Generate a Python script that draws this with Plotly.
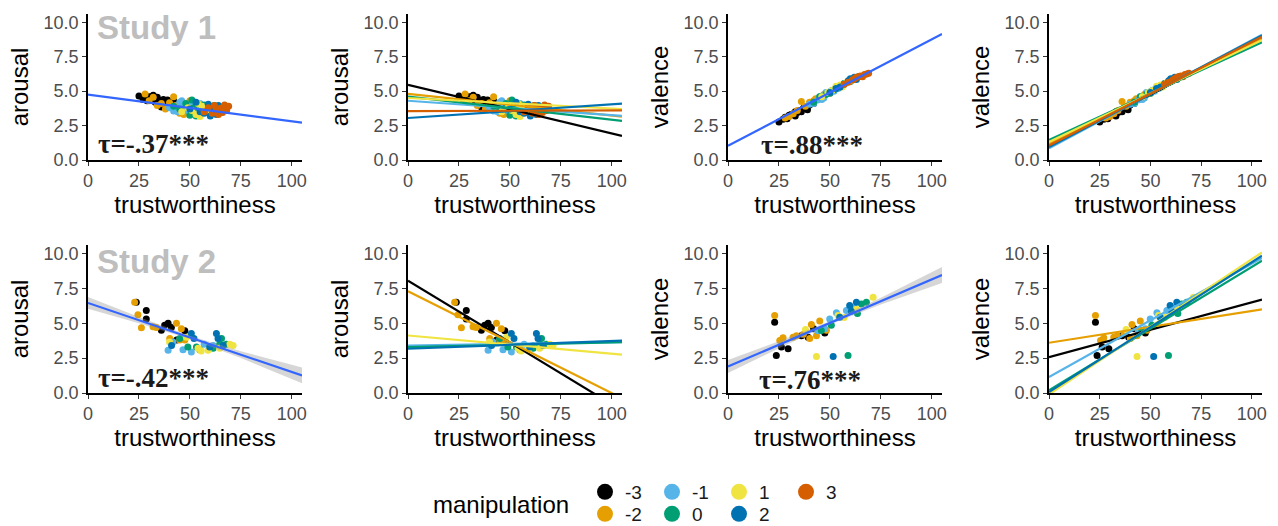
import plotly.graph_objects as go

W, H = 1278, 526

# ---------------- data ----------------
levels = [-3, -2, -1, 0, 1, 2, 3]
level_colors = ["#000000", "#E69F00", "#56B4E9", "#009E73", "#F0E442", "#0072B2", "#D55E00"]
legend_row1 = [-3, -1, 1, 3]
legend_row2 = [-2, 0, 2]

x_ticks = [0, 25, 50, 75, 100]
y_ticks = [0, 2.5, 5, 7.5, 10]
y_ticklabels = ["0.0", "2.5", "5.0", "7.5", "10.0"]

# Study 1 (level, trustworthiness, arousal, valence)
s1_level = ([-3] * 17 + [-2] * 12 + [-1] * 13 + [0] * 11 + [1] * 9 + [2] * 10 + [3] * 11)
s1_trust = [25, 27, 28, 29, 30, 31, 32, 33, 33, 34, 35, 36, 37, 38, 39, 40, 42,
            28, 30, 32, 34, 36, 38, 40, 42, 43, 45, 47, 50,
            40, 42, 44, 45, 46, 47, 48, 50, 52, 54, 55, 57, 60,
            42, 45, 48, 50, 51, 52, 53, 55, 57, 60, 62,
            46, 49, 51, 53, 54, 55, 56, 58, 60,
            50, 53, 55, 57, 59, 60, 61, 62, 63, 64,
            57, 59, 61, 62, 63, 64, 65, 66, 67, 68, 69]
s1_arousal = [4.65, 4.4, 4.5, 4.3, 4.6, 4.4, 4.7, 4.2, 4.45, 4.55, 4.3, 3.85, 4.4, 4.25, 4.35, 4.1, 4.3,
              4.8, 4.3, 4.55, 3.95, 4.1, 3.7, 4.15, 4.6, 3.95, 3.4, 3.3, 4.3,
              3.8, 3.55, 3.5, 4.2, 4.3, 3.9, 3.6, 4.0, 3.8, 3.45, 4.1, 3.7, 3.9,
              3.9, 3.7, 4.1, 3.25, 4.35, 3.8, 3.2, 3.6, 4.0, 3.5, 3.95,
              3.5, 3.8, 3.6, 3.3, 4.1, 3.15, 3.9, 3.6, 3.4,
              3.7, 4.2, 3.5, 3.4, 4.05, 3.2, 3.8, 3.6, 3.3, 3.95,
              3.5, 3.8, 3.4, 3.95, 3.6, 3.3, 3.75, 3.45, 4.0, 3.6, 3.9]
s1_valence = [2.75, 2.95, 3.1, 3.0, 3.25, 3.3, 3.35, 3.2, 3.5, 3.45, 3.6, 3.5, 3.75, 3.8, 3.65, 4.0, 4.1,
              3.05, 3.15, 3.35, 3.6, 4.25, 3.9, 4.2, 4.3, 4.45, 4.55, 4.75, 4.85,
              4.05, 4.1, 4.35, 4.6, 4.4, 4.5, 4.9, 4.95, 5.0, 5.2, 5.35, 5.55, 5.85,
              4.2, 4.6, 4.75, 4.85, 5.05, 5.1, 5.2, 5.3, 5.55, 5.7, 5.9,
              4.6, 4.9, 5.05, 5.35, 5.3, 5.45, 5.3, 5.6, 5.75,
              4.9, 5.2, 5.3, 5.5, 5.75, 5.9, 5.85, 6.0, 5.85, 6.05,
              5.5, 5.65, 5.8, 5.9, 6.0, 6.05, 6.1, 6.05, 6.2, 6.25, 6.3]

# Study 2 arousal (level, trustworthiness, arousal)
s2a_level = [-3] * 9 + [-2] * 11 + [-1] * 7 + [0] * 7 + [1] * 8 + [2] * 7
s2a_trust = [23.7, 28.6, 28.6, 36, 37.6, 39.3, 40.9, 47.5, 43.5,
             22.9, 24.5, 26.2, 31.9, 33.5, 43.4, 45.8, 40.1, 45, 47.5, 55,
             39.3, 46.6, 50.7, 54.8, 41.7, 61.4, 57,
             49, 53.2, 61.4, 64.6, 67.9, 65.5, 45,
             40, 54, 58.9, 64.6, 71.2, 69.6, 48.3, 55.5,
             41, 50.7, 63, 63.8, 66.3, 59.7, 52]
s2a_arousal = [6.5, 5.9, 5.3, 4.5, 4.86, 5.0, 4.7, 4.45, 3.8,
               6.5, 5.6, 4.67, 4.74, 4.7, 5.0, 4.6, 3.9, 3.8, 3.8, 3.1,
               3.06, 3.1, 2.94, 3.1, 3.66, 3.4, 3.5,
               3.3, 3.3, 3.2, 3.5, 3.5, 3.9, 3.9,
               3.66, 3.2, 3.06, 3.2, 3.4, 3.5, 4.0, 3.0,
               3.4, 4.26, 4.26, 3.9, 3.4, 3.3, 3.9]

# Study 2 valence (level, trustworthiness, valence)
s2v_level = [-3] * 8 + [-2] * 11 + [-1] * 6 + [0] * 7 + [1] * 6 + [2] * 5
s2v_trust = [22.9, 23.7, 26.2, 29.5, 39.3, 47.5, 36, 42,
             22.9, 25.4, 27, 31.9, 33.6, 40.9, 45, 43.4, 48.3, 40.1, 37,
             49.9, 53.2, 47.5, 58.1, 44, 62,
             58.9, 50.7, 65.5, 67.9, 61.4, 45.8, 63.5,
             43.4, 54, 71.2, 63, 38, 57,
             51.6, 59.7, 63, 54.8, 60.5]
s2v_valence = [5.07, 2.69, 3.29, 3.17, 4.0, 4.29, 4.1, 4.6,
               5.55, 3.76, 3.95, 4.0, 4.1, 4.9, 5.15, 4.1, 4.5, 3.9, 4.2,
               5.3, 5.75, 4.6, 5.9, 4.45, 6.1,
               2.69, 4.85, 6.38, 6.5, 5.9, 4.48, 5.7,
               2.62, 5.55, 6.86, 6.0, 4.55, 5.4,
               2.62, 6.26, 6.5, 5.43, 5.85]

# fitted lines (intercept, slope)
s1_arousal_fit = (4.75, -0.0194)
s1_valence_fit = (1.04, 0.0772)
s2_arousal_fit = (6.45, -0.0494)
s2_valence_fit = (1.90, 0.0624)

s1_arousal_int = [5.45, 4.80, 4.30, 4.60, 4.50, 3.05, 3.55]
s1_arousal_slope = [-0.0352, -0.0157, -0.0105, -0.0167, -0.0076, 0.0100, 0.0005]
s1_valence_int = [1.00, 1.20, 0.85, 1.45, 1.30, 0.95, 1.05]
s1_valence_slope = [0.0752, 0.0724, 0.0786, 0.0676, 0.0705, 0.0771, 0.0752]

s2_levels = [-3, -2, -1, 0, 1, 2]
s2_arousal_int = [8.05, 7.29, 3.40, 3.29, 4.12, 3.17]
s2_arousal_slope = [-0.0886, -0.0730, 0.0023, 0.0033, -0.0130, 0.0056]
s2_valence_int = [2.57, 3.60, 1.14, 0.19, -0.10, 0.07]
s2_valence_slope = [0.0392, 0.0227, 0.0812, 0.0885, 0.0969, 0.0930]

# confidence band half-widths (study 2 overall fits)
band_x = [0, 25, 50, 75, 105]
s2_arousal_band = [0.42, 0.22, 0.12, 0.24, 0.57]
s2_valence_band = [0.47, 0.25, 0.12, 0.25, 0.58]

tau_labels = ["τ=-.37***", "τ=.88***", "τ=-.42***", "τ=.76***"]
study_labels = ["Study 1", "Study 2"]

X_RANGE = [0, 105]
Y_RANGE = [0, 10.6]

# ---------------- layout geometry (pixels) ----------------
col_px = [(88, 302), (408, 622), (728, 942), (1049, 1262)]
row_px = [(14, 160), (245, 393)]

FONT = "Liberation Sans, Arial, sans-serif"
color_of = dict(zip(levels, level_colors))

fig = go.Figure()


def ax_names(i):
    n = "" if i == 0 else str(i + 1)
    return "x" + n, "y" + n


def add_points(i, lv, xs, ys):
    xa, ya = ax_names(i)
    for L in levels:
        px = [x for l, x in zip(lv, xs) if l == L]
        py = [y for l, y in zip(lv, ys) if l == L]
        if not px:
            continue
        fig.add_trace(go.Scatter(x=px, y=py, mode="markers", xaxis=xa, yaxis=ya,
                                 marker=dict(size=7, color=color_of[L], line=dict(width=0)),
                                 showlegend=False, hoverinfo="skip"))


def line_xy(a, b):
    xs = [X_RANGE[0], X_RANGE[1]]
    return xs, [a + b * x for x in xs]


def add_line(i, a, b, color, width=2.2):
    xa, ya = ax_names(i)
    xs, ys = line_xy(a, b)
    fig.add_trace(go.Scatter(x=xs, y=ys, mode="lines", xaxis=xa, yaxis=ya,
                             line=dict(color=color, width=width), showlegend=False,
                             hoverinfo="skip"))


def add_band(i, a, b, half):
    xa, ya = ax_names(i)
    up = [a + b * x + h for x, h in zip(band_x, half)]
    lo = [a + b * x - h for x, h in zip(band_x, half)]
    fig.add_trace(go.Scatter(x=band_x + band_x[::-1], y=up + lo[::-1], mode="lines",
                             fill="toself", fillcolor="rgba(153,153,153,0.4)",
                             line=dict(width=0), xaxis=xa, yaxis=ya, showlegend=False,
                             hoverinfo="skip"))


# Row 1 (Study 1)
add_points(0, s1_level, s1_trust, s1_arousal)
add_line(0, *s1_arousal_fit, "#3366FF")
add_points(1, s1_level, s1_trust, s1_arousal)
for L, a, b in zip(levels, s1_arousal_int, s1_arousal_slope):
    add_line(1, a, b, color_of[L])
add_points(2, s1_level, s1_trust, s1_valence)
add_line(2, *s1_valence_fit, "#3366FF")
add_points(3, s1_level, s1_trust, s1_valence)
for L, a, b in zip(levels, s1_valence_int, s1_valence_slope):
    add_line(3, a, b, color_of[L])

# Row 2 (Study 2)
add_points(4, s2a_level, s2a_trust, s2a_arousal)
add_band(4, *s2_arousal_fit, s2_arousal_band)
add_line(4, *s2_arousal_fit, "#3366FF")
add_points(5, s2a_level, s2a_trust, s2a_arousal)
for L, a, b in zip(s2_levels, s2_arousal_int, s2_arousal_slope):
    add_line(5, a, b, color_of[L])
add_points(6, s2v_level, s2v_trust, s2v_valence)
add_band(6, *s2_valence_fit, s2_valence_band)
add_line(6, *s2_valence_fit, "#3366FF")
add_points(7, s2v_level, s2v_trust, s2v_valence)
for L, a, b in zip(s2_levels, s2_valence_int, s2_valence_slope):
    add_line(7, a, b, color_of[L])

# legend entries
for L in legend_row1 + legend_row2:
    fig.add_trace(go.Scatter(x=[None], y=[None], mode="markers", name=str(L),
                             marker=dict(size=20, color=color_of[L]),
                             legend="legend" if L in legend_row1 else "legend2",
                             showlegend=True))

ytitles = ["arousal", "arousal", "valence", "valence"]
layout = dict(width=W, height=H, margin=dict(l=0, r=0, t=0, b=0, autoexpand=False),
              paper_bgcolor="white", plot_bgcolor="white",
              font=dict(family=FONT, color="#000000"))

for i in range(8):
    r, c = divmod(i, 4)
    n = "" if i == 0 else str(i + 1)
    x0, x1 = col_px[c]
    t, b = row_px[r]
    xa, ya = ax_names(i)
    common = dict(showline=True, linecolor="#000000", linewidth=1.6, ticks="outside",
                  ticklen=4, tickwidth=1.4, tickcolor="#333333", showgrid=False,
                  zeroline=False, tickfont=dict(family=FONT, size=18, color="#4D4D4D"),
                  mirror=False, fixedrange=True, automargin=False)
    layout["xaxis" + n] = dict(domain=[x0 / W, x1 / W], anchor=ya, range=X_RANGE,
                               tickvals=x_ticks,
                               title=dict(text="trustworthiness", standoff=5,
                                          font=dict(family=FONT, size=24, color="#000000")),
                               **common)
    layout["yaxis" + n] = dict(domain=[1 - b / H, 1 - t / H], anchor=xa, range=Y_RANGE,
                               tickvals=y_ticks, ticktext=y_ticklabels,
                               title=dict(text=ytitles[c], standoff=8,
                                          font=dict(family=FONT, size=24, color="#000000")),
                               **common)

legend_common = dict(orientation="h", xanchor="left", yanchor="middle",
                     font=dict(family=FONT, size=19, color="#1A1A1A"),
                     bgcolor="rgba(0,0,0,0)", borderwidth=0, itemwidth=30,
                     entrywidth=22, entrywidthmode="pixels", traceorder="normal")
layout["legend"] = dict(x=585 / W, y=1 - 492 / H, **legend_common)
layout["legend2"] = dict(x=585 / W, y=1 - 514 / H, **legend_common)

annotations = []
for r, lab in enumerate(study_labels):
    xa, ya = ax_names(r * 4)
    annotations.append(dict(text="<b>" + lab + "</b>", xref=xa, yref=ya, x=3.4,
                            y=[9.62, 9.45][r], xanchor="left", yanchor="middle",
                            showarrow=False,
                            font=dict(family=FONT, size=33, color="#BEBEBE")))
tau_pos = [(0, 3.8, 1.18), (2, 15.0, 1.12), (4, 3.8, 1.08), (6, 14.2, 0.95)]
for (i, tx, ty), lab in zip(tau_pos, tau_labels):
    xa, ya = ax_names(i)
    annotations.append(dict(text="<b>" + lab + "</b>", xref=xa, yref=ya, x=tx, y=ty,
                            xanchor="left", yanchor="middle", showarrow=False,
                            font=dict(family="Liberation Serif, Times New Roman, serif",
                                      size=27, color="#1A1A1A")))
annotations.append(dict(text="manipulation", xref="paper", yref="paper", x=431 / W,
                        y=1 - 504 / H, xanchor="left", yanchor="middle", showarrow=False,
                        font=dict(family=FONT, size=24, color="#000000")))
layout["annotations"] = annotations

fig.update_layout(**layout)
fig.write_html("out.html", config={"displayModeBar": False},
               post_script="document.body.style.margin='0';document.body.style.padding='0';")
